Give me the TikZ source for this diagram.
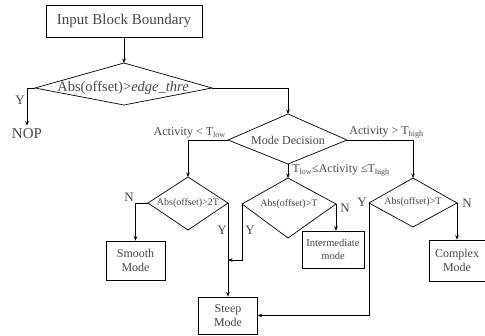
\documentclass[tikz,border=0pt]{standalone}
\usepackage{fontspec}
\setmainfont{Liberation Serif}
\usetikzlibrary{arrows.meta}
\begin{document}
\begin{tikzpicture}[x=1pt,y=-1pt,line width=0.7pt,
  arr/.style={-{Stealth[length=4.5pt,width=3.6pt]}},
  txt/.style={text=black!72,inner sep=0pt},
  box/.style={draw,txt,align=center,font=\fontsize{12}{14.5}\selectfont},
  yn/.style={txt,font=\fontsize{13}{14}\selectfont},
  lab/.style={txt,font=\fontsize{12}{14}\selectfont},
  dtxt/.style={txt,font=\fontsize{10}{12}\selectfont}]
\useasboundingbox (0,0) rectangle (485,335);
% boxes
\node[box,minimum width=156pt,minimum height=32pt,font=\fontsize{15}{17}\selectfont] (b0) at (124,21) {Input Block Boundary};
\node[box,minimum width=59pt,minimum height=39pt] (smooth) at (135.5,260.5) {Smooth\\Mode};
\node[box,minimum width=62pt,minimum height=37pt,font=\fontsize{10.5}{13}\selectfont] (inter) at (333,249.5) {Intermediate\\mode};
\node[box,minimum width=56pt,minimum height=41pt] (complex) at (457,260.5) {Complex\\Mode};
\node[box,minimum width=59pt,minimum height=37pt] (steep) at (228,315.5) {Steep\\Mode};
% diamonds
\coordinate (d1t) at (124,63); \coordinate (d1l) at (35,88); \coordinate (d1r) at (212,88); \coordinate (d1b) at (124,105);
\coordinate (d2t) at (288,114); \coordinate (d2l) at (228,140); \coordinate (d2r) at (347,140); \coordinate (d2b) at (288,164);
\coordinate (d3t) at (188,177); \coordinate (d3l) at (148,203); \coordinate (d3r) at (228,203); \coordinate (d3b) at (188,230);
\coordinate (d4t) at (288,178); \coordinate (d4l) at (242,204); \coordinate (d4r) at (336,204); \coordinate (d4b) at (288,238);
\coordinate (d5t) at (413,178); \coordinate (d5l) at (369,203); \coordinate (d5r) at (457,203); \coordinate (d5b) at (413,227);
\draw (d1t) -- (d1r) -- (d1b) -- (d1l) -- cycle;
\draw (d2t) -- (d2r) -- (d2b) -- (d2l) -- cycle;
\draw (d3t) -- (d3r) -- (d3b) -- (d3l) -- cycle;
\draw (d4t) -- (d4r) -- (d4b) -- (d4l) -- cycle;
\draw (d5t) -- (d5r) -- (d5b) -- (d5l) -- cycle;
\node[txt,font=\fontsize{14.5}{16}\selectfont] (d1x) at (123,88) {Abs(offset)>\textit{edge\_thre}};
\node[txt,font=\fontsize{12}{14}\selectfont] (d2x) at (288,140) {Mode Decision};
\node[dtxt] (d3x) at (188,203) {Abs(offset)>2T};
\node[dtxt] (d4x) at (289,204) {Abs(offset)>T};
\node[dtxt] (d5x) at (413,202) {Abs(offset)>T};
\node[txt,font=\fontsize{15}{17}\selectfont,inner sep=3pt] (nop) at (27,134) {NOP};
% labels
\node[yn] (y1) at (20,100) {Y};
\node[lab,anchor=south east] (la) at (226,138.5) {Activity < T\textsubscript{low}};
\node[lab,anchor=south west] (lb) at (349,138.5) {Activity > T\textsubscript{high}};
\node[lab,anchor=west] (lc) at (292,170) {T\textsubscript{low}≤Activity ≤T\textsubscript{high}};
\node[yn] (n3) at (129,197) {N};
\node[yn] (y3) at (222,230) {Y};
\node[yn] (y4) at (250,230) {Y};
\node[yn] (n4) at (345,208) {N};
\node[yn] (y5) at (362,202) {Y};
\node[yn] (n5) at (467,203) {N};
% connectors
\coordinate (j) at (228,260);
\draw[arr] (b0.south) -- (d1t);
\draw[arr] (d1l) -| (nop.north);
\draw[arr] (d1r) -| (d2t);
\draw[arr] (d2l) -| (d3t);
\draw[arr] (d2b) -- (d4t);
\draw[arr] (d2r) -| (d5t);
\draw[arr] (d3l) -| (smooth.north);
\draw[arr] (d3r) -- (steep.north);
\draw[arr] (d4l) |- (j);
\draw[arr] (d4r) -- (d4r |- inter.north);
\draw[arr] (d5l) |- (steep.east);
\draw[arr] (d5r) -- (complex.north);
\end{tikzpicture}
\end{document}
